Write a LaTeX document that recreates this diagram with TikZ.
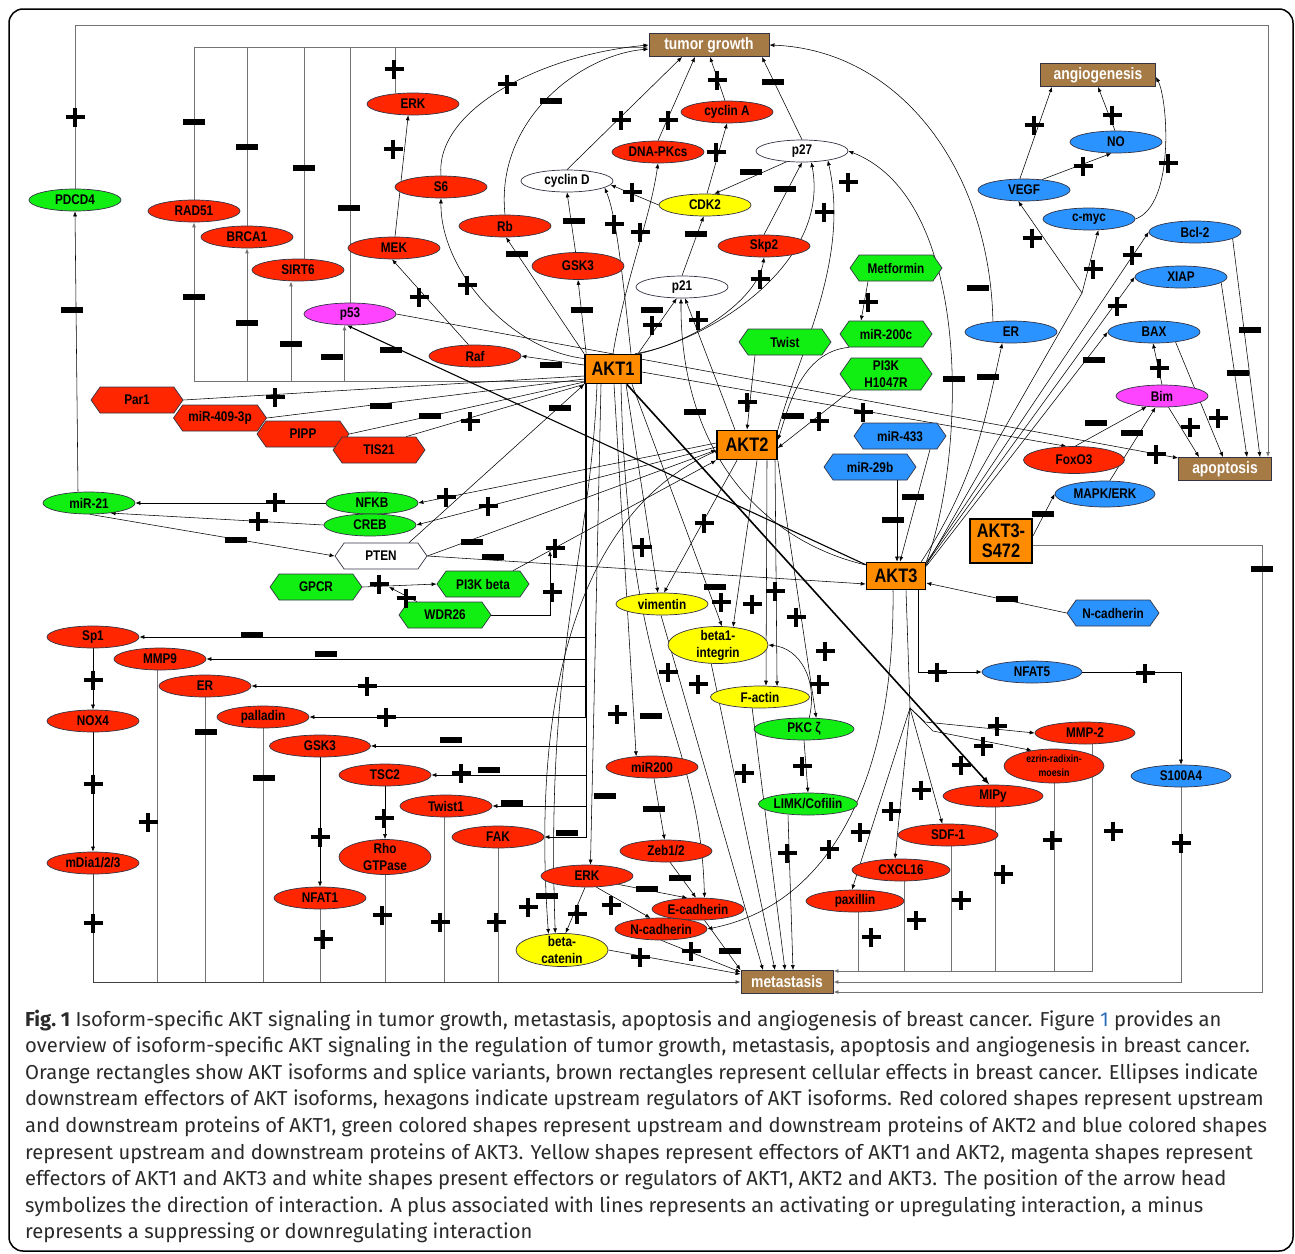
\documentclass[tikz,border=0pt]{standalone}
\usepackage{fontspec}
\setmainfont{Fira Sans}
\newfontfamily\nodefnt[FakeStretch=0.84]{Liberation Sans}
\usetikzlibrary{shapes.geometric,shapes.symbols,arrows.meta,calc}
\definecolor{cR}{HTML}{FF2600}
\definecolor{cG}{HTML}{11EE11}
\definecolor{cB}{HTML}{2A93FF}
\definecolor{cY}{HTML}{FFFF00}
\definecolor{cM}{HTML}{FF44FF}
\definecolor{cO}{HTML}{FF8C00}
\definecolor{cBr}{HTML}{A67A45}
\definecolor{cE}{HTML}{333344}
\definecolor{cTxt}{HTML}{2A2A2A}
\definecolor{cLink}{HTML}{2A6EBB}
\pgfdeclarelayer{bg}\pgfsetlayers{bg,main}
\newcommand\mkp[2]{\draw[line width=3.6pt] (#1-9.5,#2)--(#1+9.5,#2) (#1,#2-9.5)--(#1,#2+9.5);}
\newcommand\mkm[2]{\fill (#1-11,#2-2.6) rectangle (#1+11,#2+2.6);}
\begin{document}
\begin{tikzpicture}[x=1pt,y=-1pt,
 nbase/.style={draw=cE, line width=0.7pt, inner sep=0pt, font=\nodefnt\bfseries\fontsize{14}{17}\selectfont, align=center},
 ell/.style={nbase, ellipse, minimum width=92pt, minimum height=22pt},
 hex/.style={nbase, signal, signal to=east and west, signal pointer angle=110, minimum width=92pt, minimum height=26pt},
 rE/.style={ell, fill=cR}, gE/.style={ell, fill=cG}, bE/.style={ell, fill=cB},
 yE/.style={ell, fill=cY}, mE/.style={ell, fill=cM}, wE/.style={ell, fill=white},
 rH/.style={hex, fill=cR}, gH/.style={hex, fill=cG}, bH/.style={hex, fill=cB}, wH/.style={hex, fill=white},
 lab2/.style={inner sep=0pt, font=\nodefnt\bfseries\fontsize{14}{17}\selectfont, align=center},
 eff/.style={draw=cE, line width=0.9pt, fill=cBr, text=white, inner sep=0pt, minimum height=23pt, font=\nodefnt\bfseries\fontsize{16.5}{17}\selectfont},
 akt/.style={draw=black, line width=1.6pt, fill=cO, inner sep=0pt, align=center, font=\nodefnt\bfseries\fontsize{19.5}{20}\selectfont},
 ln/.style={line width=0.55pt, draw=black},
 ar/.style={ln, -{Latex[length=5pt,width=4pt]}},
 bs/.style={line width=0.9pt, draw=black!55},
 bsa/.style={bs, -{Latex[length=5pt,width=4pt]}},
 thk/.style={line width=1.6pt, draw=black, -{Latex[length=8pt,width=6pt]}},
 captxt/.style={inner sep=0pt, anchor=base west, text=cTxt, font=\fontsize{20.2}{24}\selectfont}
]
\useasboundingbox (0,0) rectangle (1295,1253);
\draw[line width=1.5pt, rounded corners=14pt] (9,9) rectangle (1293,1251);

% ---------- effects and AKT ----------
\node[eff, minimum width=120pt] (tg) at (709,45) {tumor growth};
\node[eff, minimum width=115pt] (angio) at (1098,75) {angiogenesis};
\node[eff, minimum width=93pt] (apop) at (1225,469) {apoptosis};
\node[eff, minimum width=92pt] (meta) at (787,982) {metastasis};
\node[akt, minimum width=56pt, minimum height=29pt] (akt1) at (613,369) {AKT1};
\node[akt, minimum width=60pt, minimum height=29pt] (akt2) at (747,445) {AKT2};
\node[akt, minimum width=59pt, minimum height=27pt] (akt3) at (896,576) {AKT3};
\node[akt, minimum width=62pt, minimum height=44pt] (akt3s) at (1001,541) {AKT3-\\S472};

% ---------- red ----------
\node[rE] (erkT) at (413,104) {ERK};
\node[rE] (s6) at (441,187) {S6};
\node[rE] (rad51) at (194,211) {RAD51};
\node[rE] (brca1) at (247,237) {BRCA1};
\node[rE] (sirt6) at (298,270) {SIRT6};
\node[rE] (mek) at (394,248) {MEK};
\node[rE] (rb) at (505,226) {Rb};
\node[rE, minimum height=27pt] (gsk3T) at (578,266) {GSK3};
\node[rE] (dnapk) at (658,152) {DNA-PKcs};
\node[rE] (cycA) at (727,112) {cyclin A};
\node[rE] (skp2) at (764,246) {Skp2};
\node[rE] (raf) at (475,356) {Raf};
\node[rE, minimum width=101pt, minimum height=27pt] (foxo3) at (1074,460) {FoxO3};
\node[rE] (sp1) at (93,637) {Sp1};
\node[rE] (mmp9) at (160,659) {MMP9};
\node[rE] (erL) at (205,686) {ER};
\node[rE] (nox4) at (93,721) {NOX4};
\node[rE] (palladin) at (263,717) {palladin};
\node[rE, minimum width=101pt] (gsk3L) at (320,746) {GSK3};
\node[rE] (tsc2) at (385,775) {TSC2};
\node[rE] (twist1) at (446,806) {Twist1};
\node[rE] (mdia) at (93,863) {mDia1/2/3};
\node[rE, minimum height=35pt] (rho) at (385,857) {};
\node[lab2] (rhot) at (rho) {Rho\\GTPase};
\node[rE] (nfat1) at (320,898) {NFAT1};
\node[rE] (fak) at (498,837) {FAK};
\node[rE] (mir200) at (652,767) {miR200};
\node[rE] (zeb) at (666,851) {Zeb1/2};
\node[rE] (erkL) at (587,876) {ERK};
\node[rE] (ecad) at (698,909) {E-cadherin};
\node[rE] (ncad) at (661,929) {N-cadherin};
\node[rE, minimum width=100pt] (mmp2) at (1085,733) {MMP-2};
\node[rE, minimum width=100pt, minimum height=34pt] (ezrin) at (1054,766) {};
\node[lab2, font=\nodefnt\bfseries\fontsize{10.5}{14}\selectfont] (ezrint) at (ezrin) {ezrin-radixin-\\moesin};
\node[rE, minimum width=100pt] (mipy) at (993,796) {MIPy};
\node[rE, minimum width=100pt] (sdf1) at (948,835) {SDF-1};
\node[rE, minimum width=98pt] (cxcl16) at (901,870) {CXCL16};
\node[rE, minimum width=98pt] (paxillin) at (855,901) {paxillin};
\node[rH] (par1) at (137,400) {Par1};
\node[rH, minimum width=93pt] (mir409) at (220,418) {miR-409-3p};
\node[rH] (pipp) at (303,434) {PIPP};
\node[rH] (tis21) at (379,450) {TIS21};

% ---------- white / yellow / magenta ----------
\node[wE] (cycD) at (567,181) {cyclin D};
\node[wE] (p27) at (802,151) {p27};
\node[wE] (p21) at (682,287) {p21};
\node[wH] (pten) at (381,556) {PTEN};
\node[yE] (cdk2) at (705,205) {CDK2};
\node[yE] (vim) at (662,604) {vimentin};
\node[yE, minimum width=100pt, minimum height=37pt] (beta1) at (718,645) {};
\node[lab2] (beta1t) at (beta1) {beta1-\\integrin};
\node[yE, minimum width=99pt] (factin) at (760,697) {F-actin};
\node[yE, minimum height=33pt] (betacat) at (562,950) {};
\node[lab2] (betacatt) at (betacat) {beta-\\catenin};
\node[mE] (p53) at (350,314) {p53};
\node[mE] (bim) at (1162,396) {Bim};

% ---------- green ----------
\node[gE] (pdcd4) at (75,200) {PDCD4};
\node[gE] (mir21) at (89,503) {miR-21};
\node[gE] (nfkb) at (372,503) {NFKB};
\node[gE] (creb) at (370,525) {CREB};
\node[gE, minimum width=100pt] (pkc) at (804,729) {PKC ζ};
\node[gE, minimum width=99pt] (limk) at (808,804) {LIMK/Cofilin};
\node[gH] (metformin) at (896,268) {Metformin};
\node[gH] (mir200c) at (886,334) {miR-200c};
\node[gH, minimum height=32pt] (pi3kh) at (886,374) {};
\node[lab2] (pi3kht) at (pi3kh) {PI3K\\H1047R};
\node[gH] (twist) at (785,342) {Twist};
\node[gH] (gpcr) at (316,587) {GPCR};
\node[gH] (pi3kb) at (483,584) {PI3K beta};
\node[gH] (wdr26) at (445,615) {WDR26};

% ---------- blue ----------
\node[bE] (no) at (1116,142) {NO};
\node[bE] (vegf) at (1024,190) {VEGF};
\node[bE] (cmyc) at (1089,219) {c-myc};
\node[bE] (bcl2) at (1195,232) {Bcl-2};
\node[bE] (xiap) at (1181,277) {XIAP};
\node[bE] (bax) at (1154,332) {BAX};
\node[bE] (erB) at (1011,332) {ER};
\node[bE, minimum width=100pt, minimum height=26pt] (mapk) at (1105,494) {MAPK/ERK};
\node[bE, minimum width=100pt] (nfat5) at (1032,672) {NFAT5};
\node[bE, minimum width=100pt] (s100a4) at (1181,776) {S100A4};
\node[bH] (mir433) at (900,436) {miR-433};
\node[bH] (mir29b) at (870,467) {miR-29b};
\node[bH] (ncadB) at (1113,613) {N-cadherin};

% ---------- connectors ----------
\begin{pgfonlayer}{bg}
\coordinate (tgb) at (194,47);
\draw[bsa] (rad51.north) |- ([yshift=-2pt]tg.west);
\draw[bs] (brca1.north) -- (brca1.north |- tgb);
\draw[bs] ([xshift=6pt]sirt6.north) -- ([xshift=6pt]sirt6.north |- tgb);
\draw[bs] (p53.north) -- (p53.north |- tgb);
\draw[bs] ([xshift=-18pt]erkT.north) -- ([xshift=-18pt]erkT.north |- tgb);
\coordinate (tr) at (1268,25);
\draw[bsa] (pdcd4.north) |- (tr) -- (tr |- apop.north);
\coordinate (alb) at (300,381);
\draw[bsa] ([yshift=-12pt]akt1.west) -| (rad51.south);
\draw[bsa] (brca1.south |- alb) -- (brca1.south);
\draw[bsa] ([xshift=-7pt]sirt6.south |- alb) -- ([xshift=-7pt]sirt6.south);
\draw[bsa] (p53.-116 |- alb) -- (p53.-116);
\draw[ar] ([yshift=4pt]akt1.west) -- (raf.east);
\draw[ar] (raf.120) -- (mek.-100);
\draw[ar] (mek.85) -- (erkT.-113);
\draw[ar] (p53.east) -- ([yshift=11pt]apop.west);
\draw[ar, line width=1.1pt] ([yshift=-3pt]akt3.north west) -- (p53.-105);
\draw[ar] ([yshift=-3pt]akt1.east) -- (foxo3.119);
% tumor growth block
\draw[ar] (akt1.160) .. controls (510,350) and (440,270) .. (s6.south);
\draw[ar] (s6.north) .. controls (435,110) and (540,55) .. (tg.west);
\draw[ar] (rb.north) .. controls (495,120) and (580,55) .. ([yshift=-4pt]tg.west);
\draw[ar] (akt1.north west) -- (rb.-85);
\draw[ar] ([xshift=2pt]akt1.north west) -- (gsk3T.south);
\draw[ar] (gsk3T.100) -- (cycD.south);
\draw[ar] ([xshift=18pt]akt1.north) .. controls (622,270) and (616,215) .. (cycD.-10);
\draw[ar] (akt1.north) .. controls (625,280) and (650,220) .. (dnapk.south);
\draw[ar] (cycD.north) -- ([xshift=-27pt]tg.south);
\draw[ar] (dnapk.north) -- ([xshift=-14pt]tg.south);
\draw[ar] (cycA.100) -- ([xshift=1pt]tg.south);
\draw[ar] (p27.north) -- ([xshift=53pt]tg.south);
\draw[ar] (cdk2.80) -- (cycA.south);
\draw[ar] (cdk2.west) -- (cycD.-5);
\draw[ar] (p27.215) -- (cdk2.50);
\draw[ar] (p21.north) -- (cdk2.-97);
\draw[ar] (skp2.north) -- (p27.south);
\draw[ar] ([xshift=22pt]akt1.north) .. controls (690,345) and (758,300) .. (skp2.south);
\draw[ar] ([xshift=26pt]akt1.north) .. controls (720,335) and (830,260) .. (p27.-50);
\draw[ar] (akt2.north east) .. controls (800,350) and (850,260) .. (p27.-20);
\draw[ar] (akt3.north east) .. controls (965,460) and (975,200) .. (p27.east);
\draw[ar] (erB.150) .. controls (990,170) and (900,50) .. (tg.east);
\draw[ar] ([xshift=-5pt]akt3.north east) .. controls (975,480) and (985,420) .. (erB.-128);
\draw[ar] ([xshift=25pt]akt1.north) -- (p21.-115);
\draw[ar] ([xshift=-12pt]akt2.north) -- (p21.-75);
\draw[ar] (akt3.160) .. controls (760,540) and (680,450) .. (p21.-95);
% angiogenesis / apoptosis
\coordinate (jv) at (1082,293);
\draw[ln] (akt3.20) -- (jv);
\draw[ar] (jv) -- (vegf.-117);
\draw[ar] (jv) -- (cmyc.-50);
\draw[ar] (akt3.24) -- (bcl2.west);
\draw[ar] (akt3.22) -- (xiap.west);
\draw[ar] (akt3.18) -- (bax.west);
\draw[ar] (vegf.110) -- ([xshift=-46pt]angio.south);
\draw[ar] (no.95) -- (angio.south);
\draw[ar] (vegf.30) -- (no.-112);
\draw[ar] (cmyc.east) .. controls (1175,205) and (1168,100) .. ([yshift=-2pt]angio.east);
\draw[ar] (bim.north) -- (bax.-95);
\draw[ar] (bax.-25) -- ([xshift=-2pt]apop.north);
\draw[ar] (bim.-60) -- ([xshift=-26pt]apop.north);
\draw[ar] (bcl2.-10) -- ([xshift=35pt]apop.north);
\draw[ar] (xiap.-8) -- ([xshift=22pt]apop.north);
\draw[ar] (foxo3.85) -- (bim.-145);
\draw[ar] (mapk.70) -- (bim.-120);
\draw[ar] ([yshift=-18pt]akt3s.north east) -- (mapk.west);
\coordinate (s4) at (1262,992);
\draw[bsa] ([yshift=-4pt]akt3s.east) -| (s4) -- ([yshift=-10pt]meta.east);
% AKT3 downstream
\draw[ar] ([xshift=-8pt]akt3.south east) |- (nfat5.west);
\draw[ar] (nfat5.east) -| (s100a4.north);
\draw[bsa] (s100a4.south) |- (meta.east);
\coordinate (mb) at (1113,971);
\draw[bsa] (mmp2.-56) |- ([yshift=11pt]meta.east);
\draw[bs] (ezrin.south) -- (ezrin.south |- mb);
\draw[bs] (mipy.-77) -- (mipy.-77 |- mb);
\draw[bs] (sdf1.-75) -- (sdf1.-75 |- mb);
\draw[bs] (cxcl16.-72) -- (cxcl16.-72 |- mb);
\draw[bs] (paxillin.-71) -- (paxillin.-71 |- mb);
\coordinate (fan) at (910,708);
\coordinate (f1) at (925,722);
\coordinate (f2) at (933,731);
\draw[ln] ([xshift=10pt]akt3.south) -- (fan);
\draw[ar] (fan) -- (f1) -- (mmp2.west);
\draw[ar] (fan) -- (f2) -- (ezrin.145);
\draw[ar] (fan) -- (sdf1.117);
\draw[ar] (fan) -- (cxcl16.118);
\draw[ar] (fan) -- (paxillin.105);
\draw[ar] ([xshift=-3pt]akt3.south) .. controls (895,780) and (830,905) .. (ncad.east);
\draw[thk] ([xshift=-15pt]akt1.south east) -- (mipy.107);
% AKT2 / AKT3 inputs
\draw[ar] ([xshift=-30pt]twist.south) -- (akt2.north);
\draw[ar] (pi3kh.south west) -- ([yshift=-3pt]akt2.east);
\draw[ar] (mir200c.south west) .. controls (800,352) and (788,410) .. ([yshift=5pt]akt2.east);
\draw[ar] ([xshift=-28pt]metformin.south) -- ([xshift=-25pt]mir200c.north);
\draw[ar] ([xshift=30pt]mir433.south) -- ([xshift=4pt]akt3.north);
\draw[ar] ([xshift=27pt]mir29b.south) -- ([xshift=1pt]akt3.north);
\draw[ar] (ncadB.west) -- ([yshift=-7pt]akt3.east);
% left inputs
\draw[ln] (par1.east) -- ([yshift=-7pt]akt1.west);
\draw[ln] (mir409.east) -- ([yshift=-10pt]akt1.west);
\draw[ln] (pipp.east) -- ([yshift=-13pt]akt1.west);
\draw[ln] ([xshift=-10pt]tis21.north east) -- (akt1.south west);
\draw[ar] ([xshift=28pt]pten.north) -- (akt1.south west);
\draw[ar] (pten.east) -- ([yshift=-5pt]akt2.west);
\draw[ar] (pten.east) -- ([yshift=-8pt]akt3.west);
\draw[ar] ([yshift=2pt]akt2.west) -- (nfkb.east);
\draw[ar] ([yshift=-2pt]akt2.west) -- (creb.east);
\draw[ar] (nfkb.west) -- (mir21.east);
\draw[ar] (creb.west) -- (mir21.-25);
\draw[ar] (mir21.-85) -- (pten.west);
\draw[ar] ([xshift=-11pt]mir21.north) -- (pdcd4.south);
\draw[ar] (gpcr.east) -- (pi3kb.west);
\coordinate (gp) at (389,587);
\draw[ar] ([xshift=-28pt]wdr26.north) -- (gp);
\coordinate (wj) at (550,551);
\draw[ar] (wdr26.east) -| (wj);
\draw[ar] ([xshift=30pt]pi3kb.north) -- (akt2.south west);
% AKT1 trunk
\draw[line width=2.4pt] ([xshift=2pt]akt1.south west) -- ([xshift=2pt]akt1.south west |- palladin.east);
\foreach \t in {sp1,mmp9,erL,palladin,gsk3L,tsc2,twist1,fak}
  \draw[ar, line width=0.7pt] ([xshift=2pt]akt1.south west) |- (\t.east);
% bottom-left chains
\draw[ar] (sp1.south) -- (nox4.north);
\draw[ar] (nox4.south) -- (mdia.north);
\draw[bsa, draw=black!75] (mdia.south) |- (meta.west);
\coordinate (bb) at (93,982);
\draw[bs] (mmp9.-105) -- (mmp9.-105 |- bb);
\draw[bs] (erL.south) -- (erL.south |- bb);
\draw[bs] (palladin.south) -- (palladin.south |- bb);
\draw[ar] (gsk3L.south) -- (nfat1.north);
\draw[bs] (nfat1.south) -- (nfat1.south |- bb);
\draw[ar] (tsc2.south) -- (rho.north);
\draw[bs] (rho.south) -- (rho.south |- bb);
\draw[bs] (twist1.-97) -- (twist1.-97 |- bb);
\draw[bs] (fak.south) -- (fak.south |- bb);
% AKT1 / AKT2 downstream to metastasis
\draw[ar] ([xshift=1pt]akt1.south) -- (mir200.146);
\draw[ar] ([xshift=-12pt]akt1.south) -- (erkL.73);
\draw[ar] (mir200.-80) -- (zeb.97);
\draw[ar] (zeb.-70) -- (ecad.100);
\draw[ar] (erkL.-15) -- (ecad.134);
\draw[ar] (erkL.-50) -- (ncad.134);
\draw[ar] (erkL.-100) -- (betacat.78);
\draw[ar] (ecad.-60) -- (meta.north west);
\draw[ar] (ncad.-88) -- ([yshift=-2pt]meta.north west);
\draw[ar] (betacat.east) -- ([yshift=-4pt]meta.north west);
\draw[ar] ([xshift=8pt]akt1.south) .. controls (628,700) and (700,730) .. (ecad.60);
\draw[ar] ([xshift=13pt]akt1.south) -- (vim.110);
\draw[ar] ([xshift=-10pt]akt2.south) -- (vim.80);
\draw[ar] ([xshift=19pt]akt1.south) -- (beta1.78);
\draw[ar] ([xshift=10pt]akt2.south) -- (beta1.50);
\draw[ar] ([xshift=20pt]akt2.south) -- (factin.62);
\draw[ar] ([xshift=28pt]akt2.south) -- (factin.32);
\draw[ar] (akt2.south east) -- (pkc.42);
\draw[ar] (pkc.65) .. controls (818,680) and (800,648) .. (beta1.east);
\draw[ar] (pkc.south) -- (limk.north);
\draw[ar] ([xshift=-20pt]limk.south) -- ([xshift=6pt]meta.north);
\draw[ar] (factin.-125) -- ([xshift=-2pt]meta.north);
\draw[ar] (vim.-95) -- ([xshift=-24pt]meta.north);
\draw[ar] (beta1.-110) -- ([xshift=-12pt]meta.north);
\draw[ar] ([yshift=-6pt]akt2.west) .. controls (600,500) and (528,650) .. (betacat.130);
\draw[ar] ([xshift=-16pt]akt1.south) .. controls (590,560) and (545,650) .. (betacat.112);
\end{pgfonlayer}

% ---------- markers ----------
\foreach \a/\b in {75/117,394/69,393/149,419/297,275/397,470/421,275/502,258/521,379/584,406/598,446/497,488/506,555/548,552/592,642/547,704/523,747/402,819/421,863/412,721/602,752/604,775/591,796/617,825/651,668/672,698/684,819/684,617/714,461/773,744/773,802/766,787/853,829/849,860/832,611/905,577/914,528/907,440/922,496/922,640/957,691/951,93/680,367/686,386/717,93/784,148/822,320/837,384/818,93/923,382/915,323/939,937/672,1145/673,997/726,983/746,961/765,921/790,891/811,1113/831,1052/840,1181/843,1003/874,961/900,916/920,871/937,1159/368,1218/418,1190/427,1156/454,1034/125,1112/115,1083/166,1168/163,1032/238,1093/269,1132/255,1117/306,868/302,507/84,621/120,668/120,717/80,716/152,632/192,848/182,824/212,614/224,640/232,467/285,760/279,652/325,698/320}
  {\mkp{\a}{\b}}
\foreach \a/\b in {72/310,194/122,247/147,304/168,349/208,194/297,247/323,291/344,332/357,391/350,381/406,430/416,236/540,252/635,326/654,551/365,560/408,472/542,493/557,695/412,793/416,715/587,651/716,451/740,489/770,512/803,567/833,605/796,654/809,680/878,647/889,547/896,730/951,206/732,264/778,954/379,988/377,1094/360,1238/373,1250/330,1096/423,1132/433,913/497,893/520,1043/514,1262/569,1007/599,978/288,551/101,773/82,751/172,785/189,574/221,696/234,517/254,582/310,652/310}
  {\mkm{\a}{\b}}

% ---------- caption ----------
\node[captxt] (c1) at (25,1026) {\textbf{Fig.~1} Isoform-specific AKT signaling in tumor growth, metastasis, apoptosis and angiogenesis of breast cancer. Figure \textcolor{cLink}{1} provides an};
\node[captxt] (c2) at (25,1052.6) {overview of isoform-specific AKT signaling in the regulation of tumor growth, metastasis, apoptosis and angiogenesis in breast cancer.};
\node[captxt] (c3) at (25,1079.2) {Orange rectangles show AKT isoforms and splice variants, brown rectangles represent cellular effects in breast cancer. Ellipses indicate};
\node[captxt] (c4) at (25,1105.8) {downstream effectors of AKT isoforms, hexagons indicate upstream regulators of AKT isoforms. Red colored shapes represent upstream};
\node[captxt] (c5) at (25,1132.4) {and downstream proteins of AKT1, green colored shapes represent upstream and downstream proteins of AKT2 and blue colored shapes};
\node[captxt] (c6) at (25,1159) {represent upstream and downstream proteins of AKT3. Yellow shapes represent effectors of AKT1 and AKT2, magenta shapes represent};
\node[captxt] (c7) at (25,1185.6) {effectors of AKT1 and AKT3 and white shapes present effectors or regulators of AKT1, AKT2 and AKT3. The position of the arrow head};
\node[captxt] (c8) at (25,1212.2) {symbolizes the direction of interaction. A plus associated with lines represents an activating or upregulating interaction, a minus};
\node[captxt] (c9) at (25,1238.8) {represents a suppressing or downregulating interaction};
\end{tikzpicture}
\end{document}
